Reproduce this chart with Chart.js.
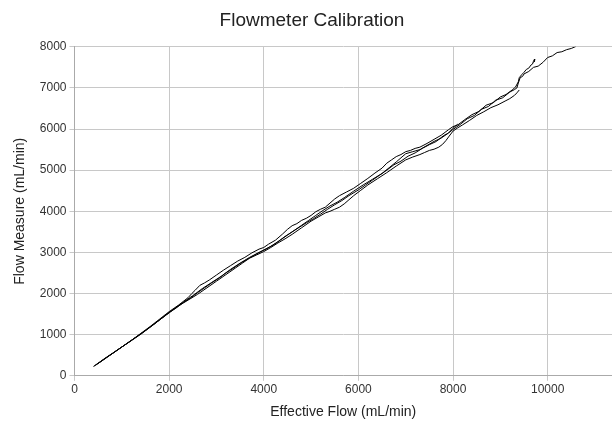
<!DOCTYPE html>
<html>
<head>
<meta charset="utf-8">
<script src="https://cdn.jsdelivr.net/npm/chart.js@4"></script>
<style>
  body { margin: 0; background: #fff; }
  #wrap { width: 612px; height: 421px; }
</style>
</head>
<body>
<div id="wrap"><canvas id="chart"></canvas></div>
<script>
// 눈금
const xTicks = [0, 2000, 4000, 6000, 8000, 10000];
const yTicks = [0, 1000, 2000, 3000, 4000, 5000, 6000, 7000, 8000];

// 측정 구간 [Effective Flow, Flow Measure]
const runA = [[400,226],[550,345],[700,470],[850,585],[1000,700],[1150,815],[1300,930],[1450,1050],[1600,1190],[1800,1360],[2000,1540],[2150,1650],[2300,1780],[2450,1890],[2600,2020],[2750,2140],[2900,2260],[3050,2370],[3200,2500],[3350,2610],[3500,2730],[3650,2830],[3800,2930],[4000,3060],[4150,3150],[4300,3260],[4450,3390],[4600,3500],[4750,3610],[4900,3720],[5050,3820],[5200,3930],[5350,4050],[5500,4160],[5650,4260],[5800,4380],[6000,4520],[6150,4640],[6300,4760],[6450,4880],[6600,5000],[6750,5130],[6900,5220],[7050,5340],[7200,5420],[7350,5530],[7500,5620],[7650,5700],[7800,5840],[7900,5900],[8000,5990],[8150,6110],[8300,6250],[8450,6330],[8600,6480],[8750,6550],[8900,6700],[9050,6760],[9200,6900],[9300,6960],[9350,7000],[9380,7120],[9420,7250],[9470,7280],[9500,7340],[9600,7400],[9700,7500],[9800,7530],[9900,7620],[10000,7740],[10100,7780],[10200,7860],[10300,7880],[10400,7930],[10500,7960],[10600,8010]];

const runB = [[420,240],[600,390],[800,540],[1000,700],[1200,860],[1400,1030],[1600,1200],[1800,1380],[2000,1560],[2200,1720],[2400,1900],[2480,2000],[2550,2080],[2650,2200],[2750,2260],[2850,2330],[3000,2450],[3150,2570],[3300,2680],[3450,2790],[3600,2880],[3750,2990],[3900,3080],[4000,3120],[4100,3200],[4250,3300],[4400,3450],[4500,3560],[4600,3650],[4700,3700],[4800,3780],[4900,3830],[5000,3900],[5100,3990],[5200,4050],[5300,4100],[5400,4200],[5500,4300],[5600,4380],[5750,4470],[5900,4560],[6050,4680],[6200,4800],[6350,4930],[6500,5050],[6600,5170],[6700,5250],[6800,5330],[6900,5380],[7000,5450],[7100,5480],[7200,5530],[7300,5560],[7450,5650],[7600,5750],[7750,5850],[7900,5980],[8000,6060],[8100,6100],[8250,6230],[8400,6350],[8550,6430],[8700,6580],[8850,6640],[9000,6780],[9120,6840],[9250,6950],[9320,7020],[9380,7150],[9400,7250],[9450,7320],[9500,7380],[9550,7450],[9600,7480],[9650,7560],[9680,7580],[9700,7650],[9730,7700],[9720,7640],[9700,7620]];

const runC = [[450,260],[650,420],[900,620],[1150,820],[1400,1020],[1600,1180],[1800,1360],[2000,1530],[2200,1700],[2400,1840],[2600,1980],[2800,2140],[3000,2300],[3200,2460],[3400,2620],[3550,2740],[3700,2860],[3850,2940],[4000,3020],[4150,3120],[4300,3230],[4450,3330],[4600,3440],[4800,3600],[5000,3760],[5150,3860],[5300,3960],[5400,4000],[5500,4050],[5600,4100],[5700,4180],[5800,4280],[5900,4380],[6050,4510],[6200,4640],[6400,4790],[6600,4940],[6800,5100],[7000,5250],[7150,5320],[7300,5380],[7400,5430],[7500,5480],[7600,5510],[7700,5560],[7780,5630],[7850,5720],[7920,5830],[8000,5950],[8100,6030],[8200,6100],[8350,6210],[8500,6330],[8650,6420],[8800,6520],[8950,6590],[9100,6680],[9200,6740],[9300,6820],[9350,6880],[9400,6950]];

const runD = [[500,300],[800,540],[1100,780],[1400,1020],[1700,1270],[2000,1540],[2300,1790],[2500,1950],[2700,2120],[2900,2270],[3100,2420],[3300,2590],[3500,2740],[3700,2880],[3900,3000],[4050,3080],[4200,3180],[4350,3300],[4500,3420],[4650,3540],[4800,3660],[4950,3780],[5100,3900],[5250,4020],[5400,4130],[5550,4220],[5700,4330],[5900,4490],[6100,4640],[6300,4780],[6500,4920],[6650,5060],[6800,5200],[6900,5300],[7000,5400],[7150,5450],[7300,5500],[7450,5600],[7600,5700],[7750,5780],[7900,5900],[8000,6020],[8100,6120]];

const runs = [runA, runB, runC, runD];

const textColor = "#333";
const font = "'Liberation Sans', Arial, sans-serif";

new Chart(document.getElementById("chart").getContext("2d"), {
  type: "scatter",
  data: {
    datasets: runs.map((run) => ({
      data: run.map(([x, y]) => ({ x: x, y: y })),
      showLine: true,
      borderColor: "#000",
      borderWidth: 1,
      pointRadius: 0,
      tension: 0,
      fill: false,
    })),
  },
  options: {
    responsive: true,
    maintainAspectRatio: false,
    animation: false,
    layout: { padding: { left: 12, right: 0, top: 9, bottom: 0 } },
    plugins: {
      legend: { display: false },
      tooltip: { enabled: false },
      title: {
        display: true,
        text: "Flowmeter Calibration",
        color: "#222",
        font: { family: font, size: 19, weight: "normal" },
        padding: { top: 0, bottom: 15 },
      },
    },
    scales: {
      x: {
        type: "linear",
        min: 0,
        max: 11360,
        afterBuildTicks: (axis) => {
          axis.ticks = xTicks.map((v) => ({ value: v }));
        },
        grid: { color: "#c8c8c8", tickLength: 5, drawTicks: true },
        border: { color: "#aaa" },
        ticks: { color: textColor, font: { family: font, size: 12 }, maxRotation: 0, padding: 2, callback: (v) => String(v) },
        title: {
          display: true,
          text: "Effective Flow (mL/min)",
          color: "#222",
          font: { family: font, size: 14 },
          padding: { top: 5, bottom: 0 },
        },
      },
      y: {
        type: "linear",
        min: 0,
        max: 8000,
        afterBuildTicks: (axis) => {
          axis.ticks = yTicks.map((v) => ({ value: v }));
        },
        grid: { color: "#c8c8c8", tickLength: 5, drawTicks: true },
        border: { color: "#aaa" },
        ticks: { color: textColor, font: { family: font, size: 12 }, padding: 3, callback: (v) => String(v) },
        title: {
          display: true,
          text: "Flow Measure (mL/min)",
          color: "#222",
          font: { family: font, size: 14 },
          padding: { top: 0, bottom: 8 },
        },
      },
    },
  },
});
</script>
</body>
</html>
